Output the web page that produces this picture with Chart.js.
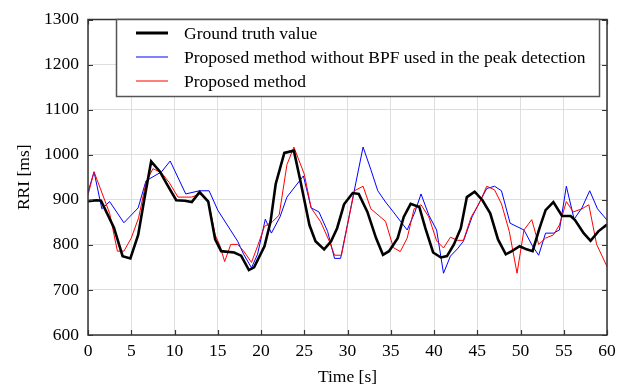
<!DOCTYPE html>
<html>
<head>
<meta charset="utf-8">
<script src="https://cdn.jsdelivr.net/npm/chart.js@4.4.0/dist/chart.umd.min.js"></script>
<style>
  html, body { margin: 0; padding: 0; background: #fff; }
  #wrap { width: 630px; height: 390px; }
</style>
</head>
<body>
<div id="wrap"><canvas id="myChart" width="630" height="390"></canvas></div>
<script>
// RRI series: sample times [s] and values [ms]
const truthT = [0, 1, 1.5, 3, 4, 4.9, 5.8, 6.5, 7.3, 8.3, 9.2, 10.2, 11.2, 12, 12.9, 13.9, 14.7, 15.4, 16.9, 17.7, 18.6, 19.2, 20.4, 21.1, 21.7, 22.7, 23.8, 24.6, 25.6, 26.3, 27.3, 28.1, 28.8, 29.6, 30.6, 31.3, 32.3, 33.3, 34.1, 34.8, 35.8, 36.5, 37.3, 38.3, 39.0, 39.9, 40.8, 41.5, 42.3, 43.1, 43.8, 44.7, 45.6, 46.5, 47.4, 48.3, 49.0, 49.9, 50.7, 51.4, 52.2, 52.9, 53.8, 54.8, 55.8, 56.3, 57.3, 58.1, 59.0, 60];
const truthV = [897, 899, 898, 838, 775, 770, 822, 900, 985, 963, 932, 899, 898, 895, 917, 896, 812, 786, 783, 776, 744, 750, 797, 851, 935, 1004, 1009, 938, 844, 808, 790, 808, 837, 890, 915, 913, 873, 815, 778, 786, 815, 862, 891, 884, 837, 783, 772, 775, 801, 837, 906, 918, 899, 870, 812, 779, 786, 797, 790, 786, 837, 877, 895, 864, 864, 855, 826, 809, 830, 845];

const blueT = [0, 0.7, 1.6, 2.5, 4.15, 5.8, 6.7, 8.5, 9.5, 11.3, 12.9, 14.0, 15.0, 16.1, 17.3, 18.0, 18.9, 19.6, 20.5, 21.2, 22.2, 23.0, 24.9, 25.8, 26.7, 27.7, 28.5, 29.2, 31.8, 32.7, 33.5, 34.4, 35.3, 36.1, 36.9, 37.8, 38.5, 39.4, 40.3, 41.1, 41.9, 42.7, 43.4, 44.4, 45.3, 46.1, 47.0, 47.8, 48.8, 50.4, 51.4, 52.1, 52.9, 53.8, 54.5, 55.3, 56.2, 57.1, 58.0, 58.9, 60];
const blueV = [917, 962, 880, 896, 849, 882, 942, 962, 986, 913, 920, 920, 877, 844, 808, 779, 749, 779, 857, 826, 862, 906, 953, 882, 873, 830, 770, 770, 1017, 967, 920, 895, 873, 853, 833, 873, 913, 866, 833, 737, 775, 791, 808, 862, 896, 925, 930, 920, 848, 833, 797, 777, 826, 826, 833, 930, 857, 882, 920, 880, 855];

const redT = [0, 0.7, 2.5, 3.4, 4.15, 5.0, 5.85, 6.7, 7.5, 8.5, 9.4, 10.4, 11.2, 12.0, 12.9, 13.9, 14.7, 15.2, 15.8, 16.5, 17.3, 18.0, 18.9, 19.6, 20.4, 21.3, 22.1, 23.0, 23.8, 25.0, 25.8, 26.9, 27.9, 28.5, 29.3, 30.8, 31.8, 32.7, 34.4, 35.3, 36.1, 36.9, 37.7, 38.5, 39.4, 40.3, 41.1, 41.9, 42.7, 43.4, 44.3, 45.2, 46.1, 47.0, 47.8, 48.7, 49.6, 50.4, 51.3, 52.1, 52.9, 53.8, 54.5, 55.3, 56.1, 57.1, 57.9, 58.8, 60];
const redV = [911, 962, 870, 786, 786, 815, 860, 938, 969, 960, 938, 906, 906, 906, 913, 899, 822, 801, 763, 801, 801, 786, 761, 797, 841, 851, 866, 978, 1017, 957, 882, 851, 808, 777, 777, 920, 930, 880, 852, 794, 785, 815, 880, 889, 862, 809, 793, 817, 810, 810, 862, 891, 930, 922, 891, 830, 737, 833, 856, 801, 815, 822, 844, 896, 873, 880, 889, 801, 752];

const xTicks = [0, 5, 10, 15, 20, 25, 30, 35, 40, 45, 50, 55, 60];
const yTicks = [600, 700, 800, 900, 1000, 1100, 1200, 1300];

const labels = ['Ground truth value', 'Proposed method without BPF used in the peak detection', 'Proposed method'];
const colors = ['#000000', '#0000ff', '#ff0000'];
const widths = [2.6, 1, 1];

function pts(t, v) {
  return t.map(function (x, i) { return {x: x, y: v[i]}; });
}

const serif = "'Liberation Serif', 'DejaVu Serif', serif";
const fsize = 17.5;

// frame with inward ticks on all four sides, plus the boxed legend
const framePlugin = {
  id: 'frame',
  afterDatasetsDraw: function (chart) {
    const g = chart.ctx;
    const a = chart.chartArea;
    const xs = chart.scales.x, ys = chart.scales.y;
    g.save();
    g.strokeStyle = '#333';
    g.lineWidth = 1.5;
    g.strokeRect(a.left, a.top, a.right - a.left, a.bottom - a.top);
    g.lineWidth = 1.2;
    g.beginPath();
    xTicks.forEach(function (t) {
      const px = Math.round(xs.getPixelForValue(t)) + 0.5;
      g.moveTo(px, a.bottom); g.lineTo(px, a.bottom - 5);
      g.moveTo(px, a.top); g.lineTo(px, a.top + 5);
    });
    yTicks.forEach(function (v) {
      const py = Math.round(ys.getPixelForValue(v)) + 0.5;
      g.moveTo(a.left, py); g.lineTo(a.left + 5, py);
      g.moveTo(a.right, py); g.lineTo(a.right - 5, py);
    });
    g.stroke();

    const bx = 116.5, by = 19.5, bw = 483, bh = 77;
    g.fillStyle = '#fff';
    g.fillRect(bx, by, bw, bh);
    g.strokeStyle = '#555';
    g.lineWidth = 1.5;
    g.strokeRect(bx, by, bw, bh);
    g.font = fsize + 'px ' + serif;
    g.textBaseline = 'middle';
    g.textAlign = 'left';
    for (let i = 0; i < labels.length; i++) {
      const y = 33 + i * 24;
      const w = i === 0 ? 3 : 1;
      g.fillStyle = colors[i];
      g.fillRect(136, y - w / 2, 32, w);
      g.fillStyle = '#000';
      g.fillText(labels[i], 184, y + 1);
    }
    g.restore();
  }
};

const ctx = document.getElementById('myChart');

new Chart(ctx, {
  type: 'line',
  data: {
    datasets: [
      {label: labels[0], data: pts(truthT, truthV), borderColor: colors[0], borderWidth: widths[0], order: 0},
      {label: labels[1], data: pts(blueT, blueV), borderColor: colors[1], borderWidth: widths[1], order: 2},
      {label: labels[2], data: pts(redT, redV), borderColor: colors[2], borderWidth: widths[2], order: 1}
    ]
  },
  options: {
    responsive: false,
    animation: false,
    layout: {padding: {top: 14, right: 23, left: 0, bottom: 0}},
    elements: {point: {radius: 0}, line: {tension: 0}},
    plugins: {legend: {display: false}, tooltip: {enabled: false}},
    scales: {
      x: {
        type: 'linear',
        min: 0, max: 60,
        afterBuildTicks: function (s) { s.ticks = xTicks.map(function (v) { return {value: v}; }); },
        afterFit: function (s) { s.height = 55; },
        grid: {color: '#dedede', drawTicks: false},
        border: {display: false},
        ticks: {color: '#000', font: {family: serif, size: fsize}, padding: 6, maxRotation: 0,
          callback: function (v) { return String(v); }},
        title: {display: true, text: 'Time [s]', color: '#000', font: {family: serif, size: fsize}, padding: {top: 0, bottom: 2}}
      },
      y: {
        min: 600, max: 1300,
        afterBuildTicks: function (s) { s.ticks = yTicks.map(function (v) { return {value: v}; }); },
        afterFit: function (s) { s.width = 88; },
        grid: {color: '#dedede', drawTicks: false},
        border: {display: false},
        ticks: {color: '#000', font: {family: serif, size: fsize}, padding: 9,
          callback: function (v) { return String(v); }},
        title: {display: true, text: 'RRI [ms]', color: '#000', font: {family: serif, size: fsize}, padding: {top: 14, bottom: 0}}
      }
    }
  },
  plugins: [framePlugin]
});
</script>
</body>
</html>
